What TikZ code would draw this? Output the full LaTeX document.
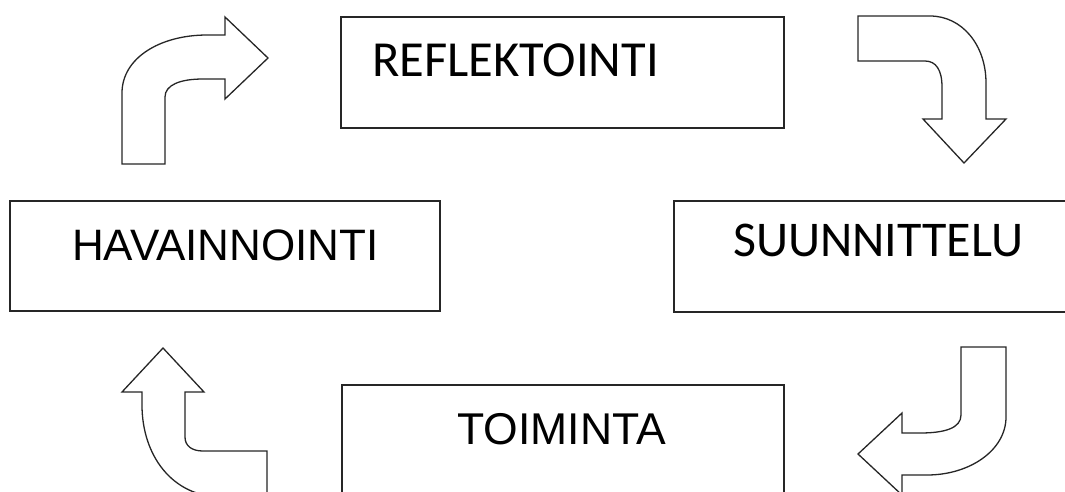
\documentclass[tikz,border=0pt]{standalone}
\usepackage{fontspec}
\newfontfamily\calfont{Carlito}
\newfontfamily\arifont{Liberation Sans}
\begin{document}
\begin{tikzpicture}[x=1pt,y=-1pt,
  boxline/.style={draw=black!85,line width=1.3pt},
  bentarrow/.style={draw=black!85,line width=1.3pt,fill=white,line join=miter},
  lab/.style={anchor=base west,inner sep=0pt,text=black}]
\useasboundingbox (0,0) rectangle (1065,491);
\clip (0,0) rectangle (1065,491);
% boxes
\draw[boxline] (341,17) rectangle (784,128);
\draw[boxline] (10,201) rectangle (440,311);
\draw[boxline] (674,201) rectangle (1075,312);
\draw[boxline] (342,385) rectangle (784,500);
% labels
\node[lab,font=\calfont\fontsize{50.5}{52}\selectfont] (refl) at (372,76) {REFLEKTOINTI};
\node[lab,font=\arifont\fontsize{44}{46}\selectfont] (hav) at (72,260) {HAVAINNOINTI};
\node[lab,font=\calfont\fontsize{50}{52}\selectfont] (suun) at (733,256) {SUUNNITTELU};
\node[lab,font=\arifont\fontsize{44.5}{46}\selectfont] (toim) at (457,444) {TOIMINTA};
% arrow top-left (up then right)
\draw[bentarrow] (122,164) -- (165,164) -- (165,97)
  .. controls (165,85) and (180,79) .. (203,79) -- (225,79) -- (225,99)
  -- (268,58) -- (225,17) -- (225,35) -- (207,35)
  .. controls (160,35) and (122,58) .. (122,93) -- cycle;
% arrow top-right (right then down)
\draw[bentarrow] (858,16) -- (930,16)
  .. controls (962,16) and (986,45) .. (986,83) -- (986,119) -- (1006,119)
  -- (964,163) -- (923,119) -- (942,119) -- (942,87)
  .. controls (942,70) and (936,61) .. (925,61) -- (858,61) -- cycle;
% arrow bottom-right (down then left)
\draw[bentarrow] (961,347) -- (1006,347) -- (1006,417)
  .. controls (1006,450) and (970,475) .. (927,475) -- (902,475) -- (902,495)
  -- (858,454) -- (902,413) -- (902,433) -- (920,433)
  .. controls (945,433) and (961,428) .. (961,415) -- cycle;
% arrow bottom-left (right then up)
\draw[bentarrow] (163,348) -- (204,392) -- (185,392) -- (185,437)
  .. controls (185,446) and (192,451) .. (203,451) -- (267,451) -- (267,497)
  -- (222,497) .. controls (172,497) and (142,455) .. (142,405)
  -- (142,392) -- (122,392) -- cycle;
\end{tikzpicture}
\end{document}
